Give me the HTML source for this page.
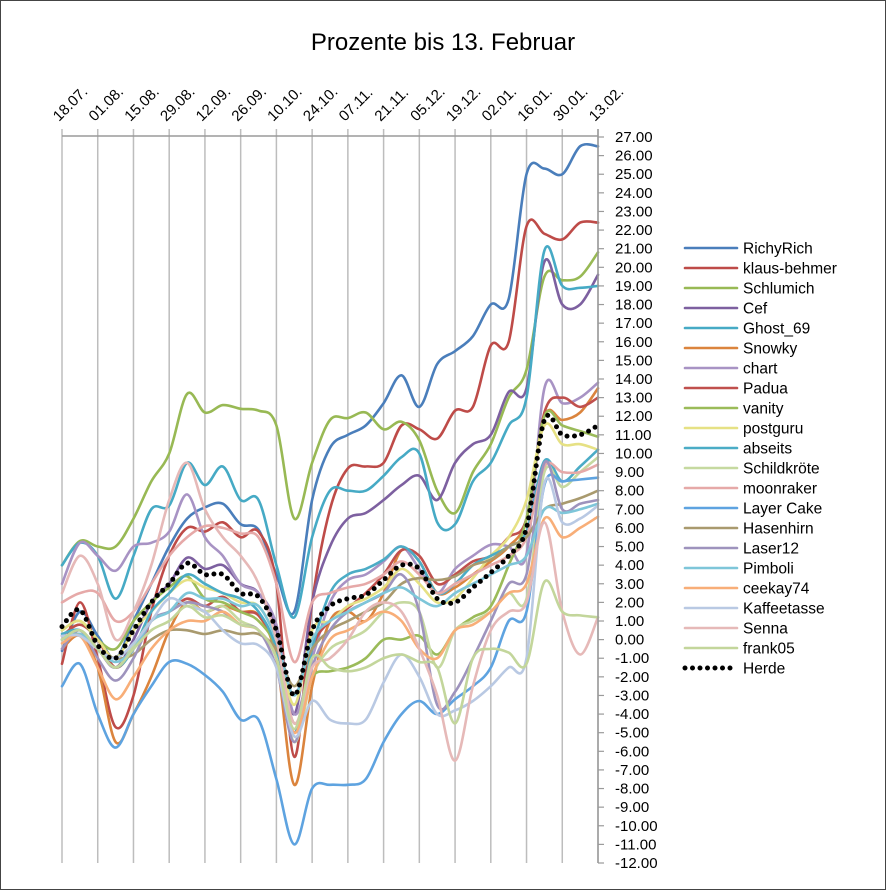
<!DOCTYPE html>
<html><head><meta charset="utf-8"><style>
body{margin:0;background:#fff}
svg{display:block;font-family:"Liberation Sans",sans-serif}
</style></head><body>
<svg id="chart" width="886" height="890" viewBox="0 0 886 890" xmlns="http://www.w3.org/2000/svg">
<rect x="0.5" y="0.5" width="885" height="889" fill="#fff" stroke="#444"/>
<text x="443" y="50" text-anchor="middle" font-size="24" fill="#000">Prozente bis 13. Februar</text>
<g id="grid"></g>
<g id="series"></g>
<g id="axes"></g>
<g id="legend"></g>
</svg>
<script>
const dateLabels=["18.07.","01.08.","15.08.","29.08.","12.09.","26.09.","10.10.","24.10.","07.11.","21.11.","05.12.","19.12.","02.01.","16.01.","30.01.","13.02."];
const yTicks=[27,26,25,24,23,22,21,20,19,18,17,16,15,14,13,12,11,10,9,8,7,6,5,4,3,2,1,0,-1,-2,-3,-4,-5,-6,-7,-8,-9,-10,-11,-12];
const seriesNames=["RichyRich","klaus-behmer","Schlumich","Cef","Ghost_69","Snowky","chart","Padua","vanity","postguru","abseits","Schildkröte","moonraker","Layer Cake","Hasenhirn","Laser12","Pimboli","ceekay74","Kaffeetasse","Senna","frank05","Herde"];
const seriesColors=["#4A7EBB","#BE4B48","#98B954","#7D60A0","#46AAC5","#DB843D","#A893C4","#C0504D","#9BBB59","#E6E184","#4BACC6","#C6D9A0","#E6A9A8","#5EA3E0","#A99A6E","#9E93BD","#7EC6D9","#F8AE78","#B9C9E3","#E6B9B8","#C3D69B","#000000"];
const vRichyRich=[-0.6,1.5,0.2,-1.0,1,3,5,6.5,7.1,7.3,6.2,5.9,3.5,1.5,7.5,10.3,11,11.5,12.7,14.2,12.5,14.8,15.5,16.3,18,18.3,25,25.3,25,26.5,26.5].slice(0,31);
const vKlaus=[-1.3,2,-1,-4.7,-3,1.5,4.5,6,5.8,6.3,5.5,5.8,3,-6.3,2,7,9.2,9.3,9.5,11.5,11.3,10.8,12.3,12.5,15.8,16,22.2,21.8,21.5,22.4,22.4].slice(0,31);
const vSchlumich=[4.0,5.3,5.0,5.0,6.5,8.5,10,13.2,12.2,12.6,12.4,12.3,11.5,6.5,9.5,11.8,11.9,12.2,11.3,11.7,10.7,8.0,6.8,9,10.5,13,14.5,19.5,19.3,19.5,20.8];
const vCef=[0,0.5,-0.5,-1.5,0,2,3,4.4,3.8,4.0,3,2.5,0.5,-4,2,5,6.5,6.8,7.5,8.3,8.8,7.5,9.5,10.5,11,13.3,13.5,20.3,18,18,19.6];
const vGhost=[4,5.2,4.5,2.2,4.5,7,7.2,9.5,8.3,9.3,7.5,7.5,4,1.2,5.5,8,8,8,8.8,9.8,10.0,6.3,6.2,8.5,9.5,11.5,13,20.9,19,18.9,19.0];
const vSnowky=[-0.5,0.2,-1.5,-5.5,-4.0,-2,0.5,2,1.5,1.8,1.5,1.3,-1,-7.8,-2.5,1,1.5,1.0,2.5,4.8,4.2,2.5,2.8,3.5,4.2,5,6.5,12,11.8,12.2,13.5];
const vChart=[3,5.2,4.5,3.7,5,5.2,5.8,7.8,5.5,4.5,3,2.5,0.8,-4,-1,2,3.2,3.5,4.2,5,3.8,2.5,3.8,4.5,5.1,5,4.6,13.5,12.7,13,13.8];
const vPadua=[0.2,0.8,0,-1.5,-0.5,1,1.5,2.2,1.8,2.3,1.5,1.3,-0.5,-5,-0.5,1,1.7,2.5,3.5,4.8,4.5,3.0,3.5,4.2,4.5,5.5,6.5,12.2,13,12.5,13];
const vVanity=[0.5,1,0,-0.5,1,2,2.8,3.4,2.2,2.0,1.5,1.0,-0.5,-4.5,-2,-1.7,-1.5,-1,0,0,0.2,-0.8,0.5,1.2,1.8,4,6.5,12,11.5,11.2,10.9];
const vPostguru=[0.5,1,0,-1,0.5,1.5,2.5,3.2,2.8,2.5,2,1.8,0,-3.5,0.5,1.0,1.8,2.2,2.8,3.8,3.0,2.0,2.2,3.3,4.5,5.5,7.5,11.5,10.5,10.5,10.2];
const vAbseits=[0.3,0.5,-0.5,-1.5,-0.5,1.5,2.5,3.5,3,2.5,2.2,1.5,-0.5,-5,-0.5,2.5,3.5,3.8,4.3,5.0,4.2,2.5,3,4,4.5,5,5.8,9.6,8.5,9.3,10.2];
const vSchildkroete=[0,0.5,-0.5,-1.5,-0.3,1,1.5,2,1.5,1.8,1,0.5,-1,-5.5,-2,-0.5,0,0.5,1.5,2,1.5,-1.5,0.5,1,1.5,2.5,2.2,9,8.2,9,9.8];
const vMoonraker=[2.0,2.5,2.5,1.0,1.5,3,4.5,5.5,6.1,6,5.7,5.5,3,-1.2,2,2.5,2.8,3,3.5,4.2,3.5,2.5,3,3.5,4,4.5,5.5,9.3,9,9,9.4];
const vLayerCake=[-2.5,-1.3,-4,-5.8,-4,-2.5,-1.2,-1.3,-1.9,-2.8,-4.3,-4.3,-7.5,-11,-8,-7.8,-7.8,-7.5,-5.5,-4,-3.3,-4,-3.2,-2.5,-1.5,1,1.5,8.3,8.5,8.6,8.7];
const vHasenhirn=[0,0.3,-0.5,-1.0,-0.8,0,0.5,0.5,0.3,0.5,0.3,0.3,-0.5,-2.5,-0.5,0.5,1,1.5,2,3,3.3,3.2,3.4,4.0,4.3,5,5.5,7.0,7.3,7.6,8.0];
const vLaser12=[-0.5,0.5,-1,-2.2,-1,1,1.5,2,1.8,1.5,0.8,0.5,-1.5,-5.5,-1.5,0.5,1.5,2,2.5,3.5,1.5,-3.5,-2.8,-1,1,3,3.5,9.5,7,7.3,7.5];
const vPimboli=[0,0.3,-0.5,-1.2,-0.5,1,1.5,2.5,2.2,2.2,1.8,1.8,0,-3,0,1,1.5,2,2.5,2.8,2.2,1.8,2.5,3.0,3.5,4,4.5,7,6.8,7.0,7.3];
const vCeekay=[-0.2,0.2,-1.5,-3.2,-2,-0.5,0.5,1,1,1.5,0.8,0.5,-1,-5,-2,0,0.5,1.0,1.5,1.0,-0.5,-1.0,0.5,0.8,1.5,2.5,3,6.5,5.5,6,6.6];
const vKaffee=[0.2,0.2,-0.5,-1.0,-0.2,1,2.2,1.8,1.5,0.5,-0.2,-0.3,-1.5,-5.2,-3.3,-4.3,-4.5,-4.3,-2.3,-0.8,-2,-4,-3.8,-3.3,-2.5,-1.5,-1,8.4,6.3,6.5,7.2];
const vSenna=[2.5,4.5,3.0,0,1.5,4,7.5,9.5,7.0,5.5,4.5,3,0,-4.5,-1.5,-1,0,1.5,2,1.5,-0.5,-3,-6.5,-2.5,0.5,1.5,2,6.3,1.5,-0.8,1.2];
const vFrank05=[0,0.5,-0.5,-1.5,-0.5,0.5,1,1.8,1.2,1.3,0.8,0.5,-1,-4.8,-1.0,-1.5,-1.7,-1.5,-1.0,-0.8,-1.2,-1.5,-4.5,-1.0,-0.5,-0.7,-1.3,3.1,1.5,1.3,1.2];
const vHerde=[0.7,1.6,-0.3,-1,0.5,2,3,4.1,3.5,3.5,2.5,2.3,0.5,-3,0.5,1.8,2.2,2.4,3.2,4,3.8,2.2,2.0,2.8,3.6,4.5,6,11.8,11,11,11.5];
const seriesValues=[vRichyRich,vKlaus,vSchlumich,vCef,vGhost,vSnowky,vChart,vPadua,vVanity,vPostguru,vAbseits,vSchildkroete,vMoonraker,vLayerCake,vHasenhirn,vLaser12,vPimboli,vCeekay,vKaffee,vSenna,vFrank05,vHerde];

const NS="http://www.w3.org/2000/svg";
const X0=62,X1=598,Y0=137,Y1=863,YMAX=27,YMIN=-12,NPTS=31;
function xPos(i){return X0+(X1-X0)*i/(NPTS-1);}
function yPos(v){return Y0+(YMAX-v)*(Y1-Y0)/(YMAX-YMIN);}
function mk(tag,attrs,parent){const e=document.createElementNS(NS,tag);for(const k in attrs)e.setAttribute(k,attrs[k]);parent.appendChild(e);return e;}
const grid=document.getElementById('grid'),axes=document.getElementById('axes'),ser=document.getElementById('series'),leg=document.getElementById('legend');
dateLabels.forEach((d,i)=>{
  const x=X0+(X1-X0)*i/(dateLabels.length-1);
  const l=mk('line',{x1:x,x2:x,y1:129,y2:Y1,stroke:'#bdbdbd','stroke-width':1.5},grid);
  
  
  const t=mk('text',{x:x-3,y:122,'font-size':15,fill:'#000',transform:`rotate(-45 ${x-3} 122)`},axes);
  t.textContent=d;
  
  
});
const ha=mk('line',{x1:X0,x2:X1,y1:Y0-1,y2:Y0-1,stroke:'#9a9a9a','stroke-width':1.5},axes);


const va=mk('line',{x1:X1,x2:X1,y1:Y0-8,y2:Y1,stroke:'#9a9a9a','stroke-width':1.5},axes);


yTicks.forEach(v=>{
  const y=yPos(v);
  const tk=mk('line',{x1:X1,x2:X1+6,y1:y,y2:y,stroke:'#9a9a9a','stroke-width':1.2},axes);
  
  
  const t=mk('text',{x:615,y:y+5,'font-size':15,fill:'#000'},axes);
  t.textContent=v.toFixed(2);
  
  
});
function smoothPath(pts){
  let d=`M${pts[0][0].toFixed(1)},${pts[0][1].toFixed(1)}`;
  for(let i=0;i<pts.length-1;i++){
    const p0=pts[i-1]||pts[i],p1=pts[i],p2=pts[i+1],p3=pts[i+2]||p2;
    const t=1/6;
    const c1=[p1[0]+(p2[0]-p0[0])*t,p1[1]+(p2[1]-p0[1])*t];
    const c2=[p2[0]-(p3[0]-p1[0])*t,p2[1]-(p3[1]-p1[1])*t];
    d+=`C${c1[0].toFixed(1)},${c1[1].toFixed(1)} ${c2[0].toFixed(1)},${c2[1].toFixed(1)} ${p2[0].toFixed(1)},${p2[1].toFixed(1)}`;
  }
  return d;
}
seriesValues.forEach((vals,s)=>{
  const pts=vals.map((v,i)=>[xPos(i),yPos(v)]);
  const isHerde=s===seriesNames.length-1;
  const attrs={d:smoothPath(pts),fill:'none',stroke:seriesColors[s],'stroke-width':isHerde?4:2.6,'stroke-linecap':'round','stroke-linejoin':'round'};
  if(isHerde){attrs['stroke-dasharray']='0 7.5';attrs['stroke-width']=5;}
  const p=mk('path',attrs,ser);
  
  
});
seriesNames.forEach((n,s)=>{
  const y=248+s*20;
  const isHerde=s===seriesNames.length-1;
  const g=mk('g',{},leg);
  
  
  const la={x1:685,x2:737,y1:y,y2:y,stroke:seriesColors[s],'stroke-width':isHerde?5:2.6,'stroke-linecap':'round'};
  if(isHerde)la['stroke-dasharray']='0 7.5';
  mk('line',la,g);
  const t=mk('text',{x:743,y:y+5.5,'font-size':15.5,fill:'#000'},g);
  t.textContent=n;
});
</script>
</body></html>
